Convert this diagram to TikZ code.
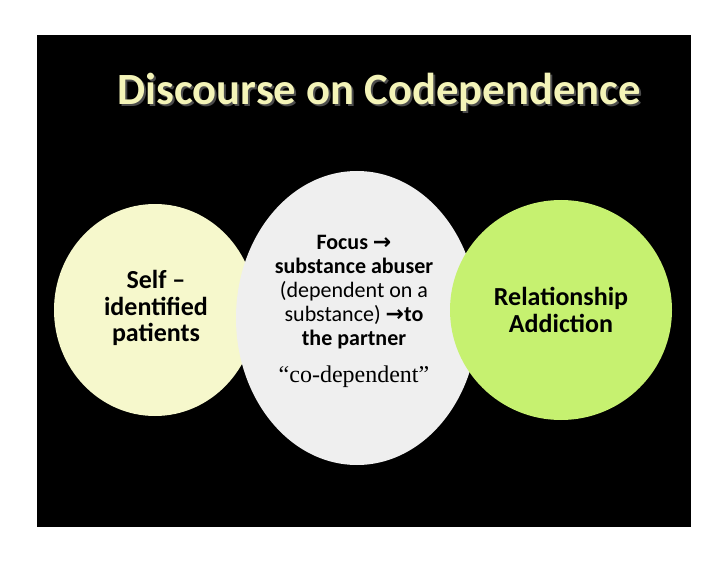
\documentclass[tikz,border=0pt]{standalone}
\usepackage{fontspec}
\setmainfont{Carlito}
\newfontfamily\arrfont{DejaVu Sans}
\newfontfamily\serifb{Liberation Serif}
\definecolor{titlec}{HTML}{F4F4B8}
\definecolor{leftc}{HTML}{F6F8CC}
\definecolor{midc}{HTML}{EFEFEF}
\definecolor{rightc}{HTML}{C6F170}
\newcommand{\arr}{{\arrfont\bfseries →}}
\tikzset{circtext/.style={align=center,font=\bfseries\fontsize{19.5}{20}\selectfont,text=black}}
\begin{document}
\begin{tikzpicture}[x=0.75pt,y=-0.75pt]
\useasboundingbox (0,0) rectangle (728,563);
\fill[white] (0,0) rectangle (728,563);
\fill[black] (37,35) rectangle (691,527);
\node[text=gray!60!black,font=\bfseries\fontsize{33.5}{36}\selectfont] (tshadow) at (381,94) {Discourse on Codependence};
\node[text=titlec,font=\bfseries\fontsize{33.5}{36}\selectfont] (title) at (379,92) {Discourse on Codependence};
\fill[leftc] (155,310) ellipse [x radius=101, y radius=106];
\fill[midc] (357,318) ellipse [x radius=121, y radius=147];
\fill[rightc] (561,310) ellipse [x radius=111, y radius=110];
\node[circtext] (l) at (156,308) {Self –\\identified\\patients};
\node[align=center,font=\fontsize{16.5}{18}\selectfont] (m) at (354,292)
 {\textbf{Focus \arr}\\\textbf{substance abuser}\\(dependent on a\\substance) \textbf{\arr to}\\\textbf{the partner}};
\node[font=\serifb\fontsize{18}{20}\selectfont] (q) at (354,377) {“co-dependent”};
\node[circtext] (r) at (561,310) {Relationship\\Addiction};
\end{tikzpicture}
\end{document}
